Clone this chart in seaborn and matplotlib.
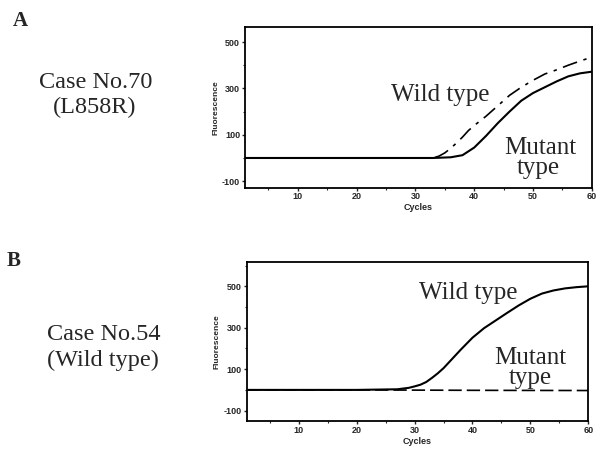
import matplotlib
matplotlib.use("Agg")
import matplotlib.pyplot as plt
import seaborn as sns
import pandas as pd
from matplotlib.ticker import MultipleLocator

sns.set_style("ticks")
plt.rcParams['font.family'] = ['Liberation Sans', 'DejaVu Sans']
plt.rcParams['axes.unicode_minus'] = False

# Panel A (Case No.70, L858R)
a_mut_x = [1, 10, 20, 30, 33, 36, 38, 40, 42, 44, 46, 48, 50, 52, 54, 56, 58, 60]
a_mut_y = [0, 0, 0, 0, 0, 3, 12, 45, 95, 150, 200, 247, 280, 305, 330, 352, 365, 372]
a_wild_x = [1, 20, 33, 34, 35, 36, 37, 38, 39, 40, 42, 44, 46, 48, 50, 52, 54, 56, 58, 60]
a_wild_y = [0, 0, 0, 8, 22, 42, 65, 90, 118, 140, 180, 225, 270, 305, 335, 362, 380, 400, 418, 435]

# Panel B (Case No.54, wild type)
b_wild_x = [1, 10, 20, 27, 29, 30, 31, 32, 33, 34, 35, 36, 38, 40, 42, 44, 46, 48, 50, 52, 54, 56, 58, 60]
b_wild_y = [0, 0, 0, 3, 10, 17, 25, 38, 58, 80, 105, 135, 195, 252, 298, 335, 372, 408, 440, 465, 480, 490, 496, 500]
b_mut_x = [1, 20, 40, 60]
b_mut_y = [0, 0, -2, -3]

x_ticks = [10, 20, 30, 40, 50, 60]
y_ticks = [-100, 100, 300, 500]

fig = plt.figure(figsize=(5.96, 4.49), dpi=100)
axA = fig.add_axes([0.411, 0.581, 0.582, 0.359])
axB = fig.add_axes([0.414, 0.0624, 0.573, 0.353])

def style(ax, ylim, xpad):
    ax.set_xlim(1, 60)
    ax.set_ylim(*ylim)
    ax.set_xticks(x_ticks)
    ax.set_yticks(y_ticks)
    ax.xaxis.set_minor_locator(MultipleLocator(5))
    ax.yaxis.set_minor_locator(MultipleLocator(100))
    for s in ax.spines.values():
        s.set_visible(True)
        s.set_linewidth(1.3)
        s.set_color('black')
    ax.tick_params(which='major', direction='out', length=2.5, width=1, labelsize=6.5, pad=1)
    ax.tick_params(axis='x', which='major', pad=xpad)
    ax.tick_params(which='minor', direction='out', length=1.5, width=0.8)
    for lab in ax.get_xticklabels() + ax.get_yticklabels():
        lab.set_fontweight('bold')
    ax.set_xlabel('Cycles', fontsize=6.5, fontweight='bold', labelpad=1.5)
    ax.set_ylabel('Fluorescence', fontsize=6, fontweight='bold', labelpad=2)

dfA_m = pd.DataFrame({'x': a_mut_x, 'y': a_mut_y})
dfA_w = pd.DataFrame({'x': a_wild_x, 'y': a_wild_y})
sns.lineplot(data=dfA_w, x='x', y='y', ax=axA, color='black', lw=1.2, linestyle=(0, (9, 4, 2, 4)))
sns.lineplot(data=dfA_m, x='x', y='y', ax=axA, color='black', lw=1.5)
style(axA, (-130, 565), 0)

dfB_w = pd.DataFrame({'x': b_wild_x, 'y': b_wild_y})
dfB_m = pd.DataFrame({'x': b_mut_x, 'y': b_mut_y})
sns.lineplot(data=dfB_m, x='x', y='y', ax=axB, color='black', lw=1.2, linestyle=(0, (8, 3)))
sns.lineplot(data=dfB_w, x='x', y='y', ax=axB, color='black', lw=1.5)
style(axB, (-150, 615), 1)

serif = ['Liberation Serif', 'DejaVu Serif']
def ftext(x, y, s, size=18, weight='normal'):
    fig.text(x / 596, 1 - y / 449, s, ha='center', va='center', fontsize=size,
             family=serif, fontweight=weight)

ftext(20, 21, 'A', 15, 'bold')
ftext(96, 82, 'Case No.70', 17.5)
ftext(95, 107, '(L858R)', 17.5)
ftext(14, 261, 'B', 15, 'bold')
ftext(104, 335, 'Case No.54', 17.5)
ftext(103, 360, '(Wild type)', 17.5)

ftext(440, 95, 'Wild type', 18)
ftext(540, 148, 'Mutant', 18)
ftext(538, 168, 'type', 18)

ftext(468, 293, 'Wild type', 18)
ftext(530, 358, 'Mutant', 18)
ftext(530, 378, 'type', 18)

fig.savefig('out.png', dpi=100)
